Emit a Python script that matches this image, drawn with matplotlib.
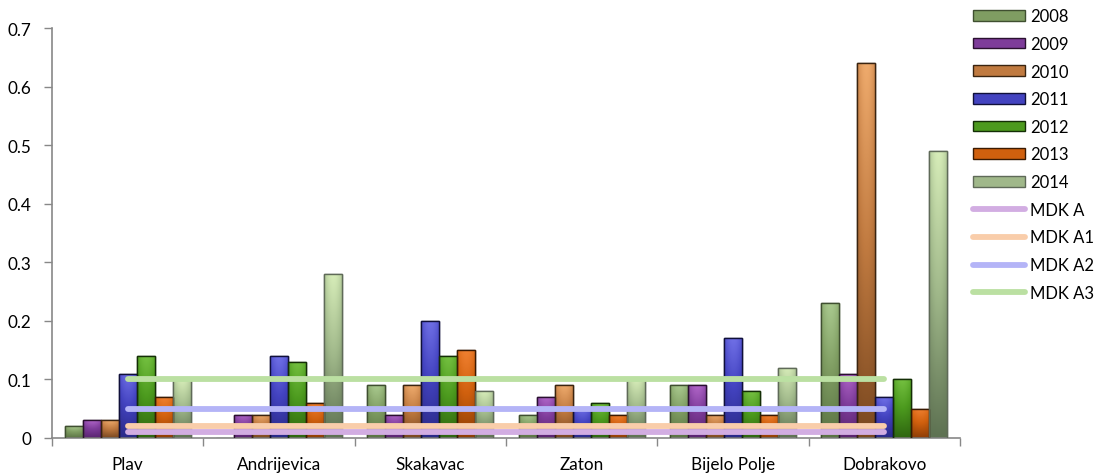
import numpy as np
import matplotlib
matplotlib.use("Agg")
import matplotlib.pyplot as plt
from matplotlib.colors import LinearSegmentedColormap
from matplotlib.patches import Patch
from matplotlib.lines import Line2D

categories = ["Plav", "Andrijevica", "Skakavac", "Zaton", "Bijelo Polje", "Dobrakovo"]
years = ["2008", "2009", "2010", "2011", "2012", "2013", "2014"]
v2008 = [0.02, 0.00, 0.09, 0.04, 0.09, 0.23]
v2009 = [0.03, 0.04, 0.04, 0.07, 0.09, 0.11]
v2010 = [0.03, 0.04, 0.09, 0.09, 0.04, 0.64]
v2011 = [0.11, 0.14, 0.20, 0.05, 0.17, 0.07]
v2012 = [0.14, 0.13, 0.14, 0.06, 0.08, 0.10]
v2013 = [0.07, 0.06, 0.15, 0.04, 0.04, 0.05]
v2014 = [0.10, 0.28, 0.08, 0.10, 0.12, 0.49]
series = [v2008, v2009, v2010, v2011, v2012, v2013, v2014]

mdk_labels = ["MDK A", "MDK A1", "MDK A2", "MDK A3"]
mdk_values = [0.01, 0.02, 0.05, 0.10]

# (top colour, mid colour, bottom colour, edge colour)
bar_styles = [
    ("#a9c98e", "#7f9d62", "#5b7444", "#3f4f30"),
    ("#b065c8", "#7e3c9a", "#5a2470", "#2a1030"),
    ("#eeaa6c", "#c07a40", "#7a4820", "#3a2410"),
    ("#6f6fe6", "#4343c0", "#2a2a88", "#10103a"),
    ("#74c040", "#4c9a1e", "#2f6610", "#142e06"),
    ("#f08030", "#d0600e", "#8e3e06", "#3a1a02"),
    ("#d6ecb8", "#a0b88a", "#5e7252", "#5f6a58"),
]
mdk_colors = ["#d2ade2", "#f9cdaa", "#b4b4f7", "#bbe0a2"]

plt.rcParams['font.family'] = ['Lato', 'DejaVu Sans']

fig = plt.figure(figsize=(11, 4.77), dpi=100)
ax = fig.add_axes([52 / 1100, 38 / 477, 908 / 1100, 410 / 477])

x = np.arange(len(categories))
n = len(series)
bw = 0.119
offsets = (np.arange(n) - (n - 1) / 2) * bw

for i, vals in enumerate(series):
    top, mid, bot, edge = bar_styles[i]
    cmap = LinearSegmentedColormap.from_list(f"c{i}", [bot, mid, top])
    bars = ax.bar(x + offsets[i], vals, width=bw, color=mid, edgecolor=edge,
                  linewidth=1.0, zorder=2)
    for b in bars:
        h = b.get_height()
        if h <= 0:
            continue
        x0 = b.get_x()
        w = b.get_width()
        grad = np.linspace(0, 1, 64).reshape(-1, 1)
        horiz = 1 - 0.35 * (np.abs(np.linspace(-1, 1, 16)) ** 2)
        img = grad * horiz.reshape(1, -1)
        im = ax.imshow(img, cmap=cmap, vmin=0, vmax=1, aspect='auto', origin='lower',
                       extent=(x0, x0 + w, 0, h), zorder=2.5, interpolation='bilinear')
        im.set_clip_path(b)
        ax.bar(x0 + w / 2, h, width=w, color='none', edgecolor=edge,
               linewidth=1.0, zorder=3)

for lab, val, col in zip(mdk_labels, mdk_values, mdk_colors):
    ax.plot([x[0], x[-1]], [val, val], color=col, lw=4.2, solid_capstyle='round', zorder=4)

ax.set_xlim(-0.5, len(categories) - 0.5)
ax.set_ylim(0, 0.7)
ax.set_yticks(np.arange(0, 0.71, 0.1))
ax.set_yticklabels(["0", "0.1", "0.2", "0.3", "0.4", "0.5", "0.6", "0.7"])
ax.set_xticks(x)
ax.set_xticklabels(categories)
ax.set_xticks(np.arange(-0.5, len(categories), 1.0), minor=True)
ax.tick_params(axis='x', which='major', length=0, pad=13, labelsize=12.3, colors='#000000')
ax.tick_params(axis='x', which='minor', length=6, color='#888888', width=1)
ax.tick_params(axis='y', length=6, color='#888888', width=1, labelsize=12.3, pad=9)
for s in ['top', 'right']:
    ax.spines[s].set_visible(False)
for s in ['left', 'bottom']:
    ax.spines[s].set_color('#888888')
    ax.spines[s].set_linewidth(1.2)
ax.set_aspect('auto')

handles = []
for i, yr in enumerate(years):
    top, mid, bot, edge = bar_styles[i]
    handles.append(Patch(facecolor=mid, edgecolor=edge, linewidth=1.0, label=yr))
for lab, col in zip(mdk_labels, mdk_colors):
    handles.append(Line2D([0], [0], color=col, lw=4.2, solid_capstyle='round', label=lab))

fig.legend(handles=handles, loc='upper left', bbox_to_anchor=(964 / 1100, 1.0),
           frameon=False, fontsize=12, labelspacing=0.7, handlelength=3.1,
           handleheight=0.6, handletextpad=0.3, borderaxespad=0.15)

fig.savefig("out.png", dpi=100)
